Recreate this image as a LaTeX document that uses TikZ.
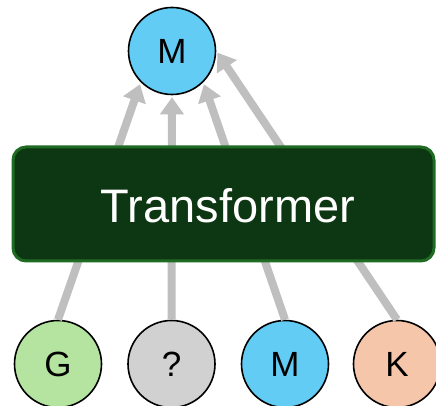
\documentclass[tikz,border=0pt]{standalone}
\usepackage{fontspec}
\setmainfont{Liberation Sans}
\usetikzlibrary{arrows.meta}
\definecolor{tokblue}{RGB}{98,204,245}
\definecolor{tokgreen}{RGB}{181,228,160}
\definecolor{tokgray}{RGB}{209,209,209}
\definecolor{tokpeach}{RGB}{245,198,170}
\definecolor{boxfill}{RGB}{13,54,18}
\definecolor{boxedge}{RGB}{31,107,36}
\definecolor{flow}{RGB}{191,191,191}
\tikzset{
  token/.style={circle, draw=black, line width=1.6pt, minimum size=87pt, inner sep=0pt, font=\fontsize{35}{40}\selectfont},
  flowarrow/.style={draw=flow, line width=8pt, -{Triangle[width=23pt,length=17pt]}, shorten >=2pt},
  model/.style={rectangle, rounded corners=13pt, draw=boxedge, line width=3pt, fill=boxfill},
  modellabel/.style={anchor=base, inner sep=0pt, text=white, font=\fontsize{47}{52}\selectfont}
}
\begin{document}
\begin{tikzpicture}[x=1pt,y=1pt]
\useasboundingbox (0,0) rectangle (436,406);
% output token
\node[token, fill=tokblue] (out) at (172,355) {M};
% input tokens
\node[token, fill=tokgreen] (g) at (58,42) {G};
\node[token, fill=tokgray] (q) at (171.5,42) {?};
\node[token, fill=tokblue] (m) at (285,42) {M};
\node[token, fill=tokpeach] (k) at (397,42) {K};
% information flow from inputs to output
\draw[flowarrow] (g.north) -- (out.south west);
\draw[flowarrow] (q.north) -- (out.south);
\draw[flowarrow] (m.north) -- (out.south east);
\draw[flowarrow] (k.north) -- (out.east);
% the model block drawn over the flow lines
\node[model, minimum width=421pt, minimum height=114pt] (tf) at (223.5,202) {};
\node[modellabel] (tflabel) at (228,183) {Transformer};
\end{tikzpicture}
\end{document}
